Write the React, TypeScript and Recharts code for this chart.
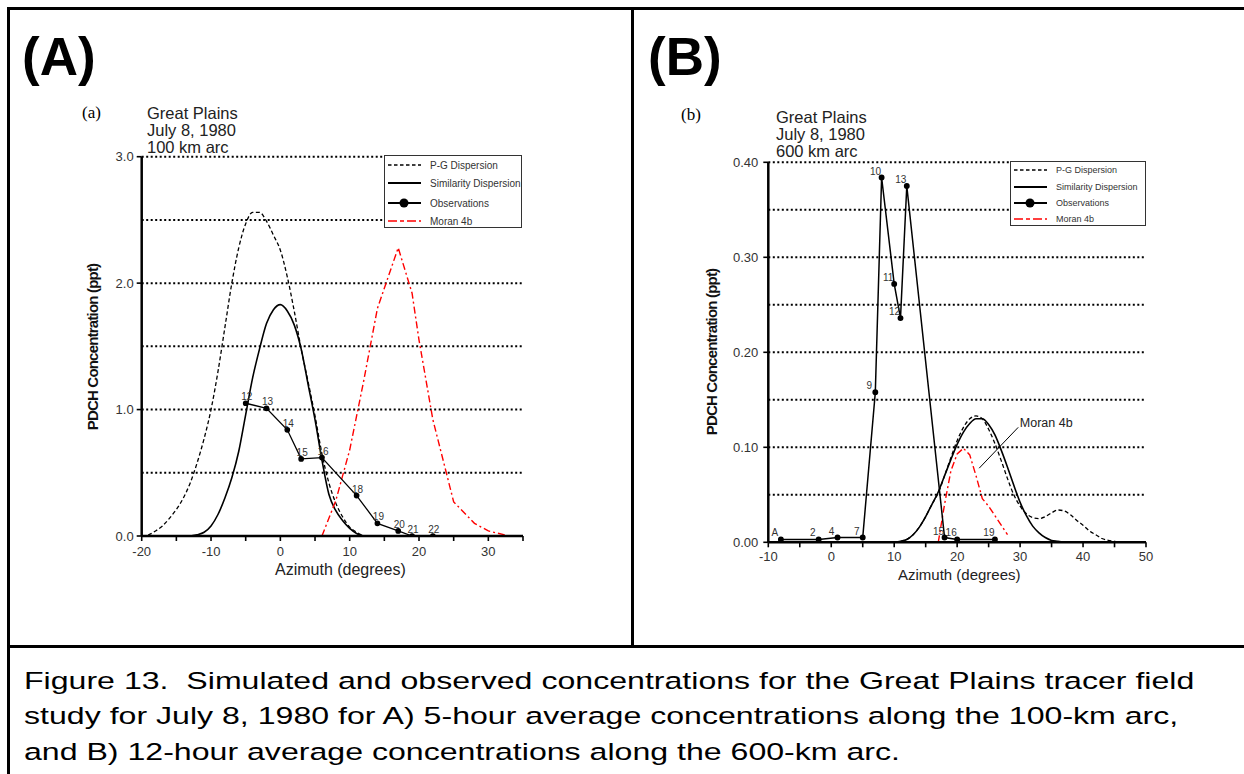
import React from "react";
import {
  LineChart,
  Line,
  XAxis,
  YAxis,
  ReferenceLine,
  ReferenceDot,
  LabelList,
} from "recharts";

const SANS = '"Liberation Sans", Arial, Helvetica, sans-serif';
const SERIF = '"Liberation Serif", "Times New Roman", serif';

// ---- panel (a): 100 km arc ----
const pgAzimuthA = [-20, -19, -18, -17, -16, -15, -14, -13, -12, -11, -10, -9, -8, -7, -6, -5, -4, -3, -2, -1, 0, 1, 2, 3, 4, 5, 6, 7, 8, 9, 10, 11, 12];
const pgConcA = [0, 0.01, 0.04, 0.08, 0.14, 0.21, 0.3, 0.42, 0.58, 0.77, 1.0, 1.3, 1.65, 2.0, 2.28, 2.47, 2.56, 2.56, 2.49, 2.38, 2.26, 2.05, 1.78, 1.48, 1.22, 0.95, 0.65, 0.42, 0.26, 0.15, 0.07, 0.03, 0];

const simAzimuthA = [-13, -12, -11, -10, -9, -8, -7, -6, -5, -4, -3, -2, -1, 0, 1, 2, 3, 4, 5, 6, 7, 8, 9, 10, 11, 12];
const simConcA = [0, 0.01, 0.03, 0.08, 0.17, 0.3, 0.46, 0.67, 0.96, 1.25, 1.48, 1.68, 1.79, 1.83, 1.78, 1.67, 1.48, 1.2, 0.92, 0.6, 0.33, 0.2, 0.12, 0.06, 0.02, 0];

const obsAzimuthA = [-5, -2, 1, 3, 6, 11, 14, 17, 19, 22];
const obsConcA = [1.05, 1.01, 0.84, 0.61, 0.62, 0.32, 0.1, 0.04, 0.0, 0.0];
const obsIdA = ["12", "13", "14", "15", "16", "18", "19", "20", "21", "22"];

const moranAzimuthA = [6, 8, 10, 12, 14, 17, 19, 20, 22, 25, 28, 30, 33];
const moranConcA = [0, 0.28, 0.68, 1.22, 1.8, 2.28, 1.92, 1.55, 0.92, 0.27, 0.1, 0.04, 0];

const xTicksA = [-20, -15, -10, -5, 0, 5, 10, 15, 20, 25, 30, 35];
const yTicksA = [0, 1, 2, 3];
const gridA = [0.5, 1, 1.5, 2, 2.5, 3];

// ---- panel (b): 600 km arc ----
const pgAzimuthB = [10, 11, 12, 13, 14, 15, 16, 17, 18, 19, 20, 21, 22, 23, 24, 25, 26, 27, 28, 29, 30, 31, 32, 33, 34, 35, 36, 37, 38, 39, 40, 41, 42, 43, 44, 45, 46];
const pgConcB = [0, 0.001, 0.003, 0.008, 0.016, 0.027, 0.04, 0.052, 0.07, 0.089, 0.107, 0.121, 0.13, 0.133, 0.13, 0.119, 0.104, 0.086, 0.067, 0.05, 0.038, 0.03, 0.026, 0.025, 0.027, 0.031, 0.034, 0.033, 0.029, 0.023, 0.018, 0.012, 0.008, 0.004, 0.002, 0.001, 0];

const simAzimuthB = [10, 11, 12, 13, 14, 15, 16, 17, 18, 19, 20, 21, 22, 23, 24, 25, 26, 27, 28, 29, 30, 31, 32, 33, 34, 35, 36, 37];
const simConcB = [0, 0.001, 0.003, 0.008, 0.016, 0.027, 0.04, 0.053, 0.07, 0.087, 0.103, 0.116, 0.125, 0.13, 0.13, 0.124, 0.113, 0.097, 0.079, 0.06, 0.042, 0.028, 0.017, 0.01, 0.005, 0.002, 0.001, 0];

const obsAzimuthB = [-8, -2, 1, 5, 7, 8, 10, 11, 12, 18, 20, 26];
const obsConcB = [0.003, 0.003, 0.005, 0.005, 0.158, 0.384, 0.272, 0.236, 0.375, 0.005, 0.003, 0.003];
const obsIdB = ["A", "2", "4", "7", "9", "10", "11", "12", "13", "15", "16", "19"];

const moranAzimuthB = [17, 18, 19, 20, 21, 22, 23, 24, 25, 26, 27, 28];
const moranConcB = [0, 0.04, 0.075, 0.093, 0.099, 0.092, 0.07, 0.046, 0.038, 0.028, 0.018, 0.008];

const xTicksB = [-10, -5, 0, 5, 10, 15, 20, 25, 30, 35, 40, 45, 50];
const yTicksB = [0, 0.1, 0.2, 0.3, 0.4];
const gridB = [0.05, 0.1, 0.15, 0.2, 0.25, 0.3, 0.35, 0.4];

const legendNames = ["P-G Dispersion", "Similarity Dispersion", "Observations", "Moran 4b"];

const captionLines = [
  "Figure 13.  Simulated and observed concentrations for the Great Plains tracer field",
  "study for July 8, 1980 for A) 5-hour average concentrations along the 100-km arc,",
  "and B) 12-hour average concentrations along the 600-km arc.",
];

const toPoints = (xs: number[], ys: number[], ids?: string[]) =>
  xs.map((x, i) => (ids ? { x, y: ys[i], id: ids[i] } : { x, y: ys[i] }));

const PG_DASH = "4 2.5";
const MORAN_DASH = "7 3 2 3";
const RED = "#ff0000";

const obsLabel = (dx: number, dy: number) => (props: any) => {
  const x = props.x ?? props.viewBox?.x;
  const y = props.y ?? props.viewBox?.y;
  return (
    <text x={x + dx} y={y + dy} textAnchor="middle" fontSize={10} fill="#333" fontFamily={SANS}>
      {props.value}
    </text>
  );
};

const LegendBox = ({ left, top, width, height, rowY, fontSize }: any) => (
  <div
    style={{
      position: "absolute",
      left,
      top,
      width,
      height,
      border: "1.5px solid #333",
      background: "#fff",
      boxSizing: "border-box",
    }}
  >
    <svg width={width} height={height} style={{ position: "absolute", left: -1.5, top: -1.5, overflow: "visible" }}>
      {legendNames.map((name, i) => (
        <g key={name}>
          <line
            x1={4}
            x2={37}
            y1={rowY[i]}
            y2={rowY[i]}
            stroke={i === 3 ? RED : "#000"}
            strokeWidth={i === 1 || i === 2 ? 2 : 1.6}
            strokeDasharray={i === 0 ? "3.5 2.5" : i === 3 ? "9 3 4 3" : undefined}
          />
          {i === 2 && <circle cx={20} cy={rowY[i]} r={4.5} fill="#000" />}
          <text x={46} y={rowY[i]} dy="0.35em" fontSize={fontSize} fill="#333" fontFamily={SANS}>
            {name}
          </text>
        </g>
      ))}
    </svg>
  </div>
);

const Txt = ({ left, top, size, children, style }: any) => (
  <div
    style={{
      position: "absolute",
      left,
      top,
      fontSize: size,
      lineHeight: 1,
      fontFamily: SANS,
      color: "#222",
      whiteSpace: "pre",
      ...style,
    }}
  >
    {children}
  </div>
);

const RotLabel = ({ cx, cy, children }: any) => (
  <div
    style={{
      position: "absolute",
      left: cx,
      top: cy,
      transform: "translate(-50%, -50%) rotate(-90deg)",
      fontFamily: SANS,
      fontWeight: "bold",
      fontSize: 15,
      letterSpacing: "-0.8px",
      whiteSpace: "nowrap",
      color: "#111",
    }}
  >
    {children}
  </div>
);

const axisLine = { stroke: "#000", strokeWidth: 2.5 };
const tickLine = { stroke: "#000", strokeWidth: 1.6 };

const ChartA = () => (
  <LineChart width={540} height={460} margin={{ top: 16.7, right: 37, left: 71.7, bottom: 34 }}>
    <XAxis
      type="number"
      dataKey="x"
      domain={[-20, 35]}
      ticks={xTicksA}
      interval={0}
      tickFormatter={(v: number) => (v % 10 === 0 ? String(v) : "")}
      axisLine={axisLine}
      tickLine={tickLine}
      tickSize={5}
      tickMargin={6}
      height={30}
      tick={{ fontSize: 13, fill: "#333", fontFamily: SANS }}
      allowDataOverflow
    />
    <YAxis
      type="number"
      dataKey="y"
      domain={[0, 3]}
      ticks={yTicksA}
      interval={0}
      tickFormatter={(v: number) => v.toFixed(1)}
      axisLine={axisLine}
      tickLine={tickLine}
      tickSize={5}
      tickMargin={3}
      width={50}
      tick={{ fontSize: 13, fill: "#333", fontFamily: SANS }}
      allowDataOverflow
    />
    {gridA.map((v) => (
      <ReferenceLine key={v} y={v} stroke="#000" strokeWidth={2} strokeDasharray="2 2.5" />
    ))}
    <Line data={toPoints(pgAzimuthA, pgConcA)} dataKey="y" type="monotone" stroke="#000" strokeWidth={1.3} strokeDasharray={PG_DASH} dot={false} isAnimationActive={false} />
    <Line data={toPoints(simAzimuthA, simConcA)} dataKey="y" type="monotone" stroke="#000" strokeWidth={1.6} dot={false} isAnimationActive={false} />
    <Line data={toPoints(moranAzimuthA, moranConcA)} dataKey="y" type="linear" stroke={RED} strokeWidth={1.4} strokeDasharray={MORAN_DASH} dot={false} isAnimationActive={false} />
    <Line data={toPoints(obsAzimuthA, obsConcA, obsIdA)} dataKey="y" type="linear" stroke="#000" strokeWidth={1.3} dot={{ r: 2.2, fill: "#000", stroke: "#000" }} isAnimationActive={false}>
      <LabelList dataKey="id" content={obsLabel(1, -3)} />
    </Line>
  </LineChart>
);

const ChartB = () => (
  <LineChart width={540} height={460} margin={{ top: 17.3, right: 44, left: 68.3, bottom: 32.7 }}>
    <XAxis
      type="number"
      dataKey="x"
      domain={[-10, 50]}
      ticks={xTicksB}
      interval={0}
      tickFormatter={(v: number) => (v % 10 === 0 ? String(v) : "")}
      axisLine={axisLine}
      tickLine={tickLine}
      tickSize={5}
      tickMargin={4}
      height={30}
      tick={{ fontSize: 13, fill: "#333", fontFamily: SANS }}
      allowDataOverflow
    />
    <YAxis
      type="number"
      dataKey="y"
      domain={[0, 0.4]}
      ticks={yTicksB}
      interval={0}
      tickFormatter={(v: number) => v.toFixed(2)}
      axisLine={axisLine}
      tickLine={tickLine}
      tickSize={5}
      tickMargin={5}
      width={50}
      tick={{ fontSize: 13, fill: "#333", fontFamily: SANS }}
      allowDataOverflow
    />
    {gridB.map((v) => (
      <ReferenceLine key={v} y={v} stroke="#000" strokeWidth={2} strokeDasharray="2 2.5" />
    ))}
    <Line data={toPoints(pgAzimuthB, pgConcB)} dataKey="y" type="monotone" stroke="#000" strokeWidth={1.3} strokeDasharray={PG_DASH} dot={false} isAnimationActive={false} />
    <Line data={toPoints(simAzimuthB, simConcB)} dataKey="y" type="monotone" stroke="#000" strokeWidth={1.6} dot={false} isAnimationActive={false} />
    <Line data={toPoints(moranAzimuthB, moranConcB)} dataKey="y" type="linear" stroke={RED} strokeWidth={1.4} strokeDasharray={MORAN_DASH} dot={false} isAnimationActive={false} />
    <Line data={toPoints(obsAzimuthB, obsConcB, obsIdB)} dataKey="y" type="linear" stroke="#000" strokeWidth={1.5} dot={{ r: 2.2, fill: "#000", stroke: "#000" }} isAnimationActive={false}>
      <LabelList dataKey="id" content={obsLabel(-6, -3)} />
    </Line>
    <ReferenceLine
      segment={[
        { x: 29.7, y: 0.121 },
        { x: 23.5, y: 0.078 },
      ]}
      stroke="#000"
      strokeWidth={1}
    />
    <ReferenceDot
      x={29.8}
      y={0.1256}
      r={0}
      fill="none"
      stroke="none"
      label={{ value: "Moran 4b", position: "right", offset: 1, fontSize: 12.5, fill: "#222", fontFamily: SANS }}
    />
  </LineChart>
);

export default function App() {
  return (
    <div
      style={{
        position: "absolute",
        left: 0,
        top: 0,
        width: 1244,
        height: 774,
        background: "#fff",
        overflow: "hidden",
        fontFamily: SANS,
      }}
    >
      {/* frame */}
      <div style={{ position: "absolute", left: 7, top: 7, width: 1237, height: 3, background: "#000" }} />
      <div style={{ position: "absolute", left: 7, top: 7, width: 3, height: 767, background: "#000" }} />
      <div style={{ position: "absolute", left: 631, top: 7, width: 3, height: 641, background: "#000" }} />
      <div style={{ position: "absolute", left: 7, top: 645, width: 1237, height: 3, background: "#000" }} />

      {/* panel A */}
      <Txt left={22} top={30} size={53} style={{ fontWeight: "bold", color: "#000" }}>(A)</Txt>
      <Txt left={82} top={104} size={17} style={{ fontFamily: SERIF, color: "#000" }}>(a)</Txt>
      <Txt left={147} top={105.3} size={16.5} style={{ lineHeight: "17px" }}>
        {"Great Plains\nJuly 8, 1980\n100 km arc"}
      </Txt>
      <div style={{ position: "absolute", left: 20, top: 140 }}>
        <ChartA />
      </div>
      <LegendBox left={384} top={155} width={138} height={73} rowY={[10, 28, 48, 66]} fontSize={10} />
      <RotLabel cx={92} cy={347}>PDCH Concentration (ppt)</RotLabel>
      <Txt left={275} top={562} size={16}>Azimuth (degrees)</Txt>

      {/* panel B */}
      <Txt left={648} top={30} size={53} style={{ fontWeight: "bold", color: "#000" }}>(B)</Txt>
      <Txt left={681} top={106} size={17} style={{ fontFamily: SERIF, color: "#000" }}>(b)</Txt>
      <Txt left={776} top={108.5} size={16.5} style={{ lineHeight: "17px" }}>
        {"Great Plains\nJuly 8, 1980\n600 km arc"}
      </Txt>
      <div style={{ position: "absolute", left: 650, top: 145 }}>
        <ChartB />
      </div>
      <LegendBox left={1010} top={161} width={136} height={65} rowY={[9, 26, 42, 58]} fontSize={9} />
      <RotLabel cx={711} cy={352}>PDCH Concentration (ppt)</RotLabel>
      <Txt left={898} top={567} size={15}>Azimuth (degrees)</Txt>

      {/* caption */}
      <div
        style={{
          position: "absolute",
          left: 24,
          top: 663,
          fontSize: 24.5,
          lineHeight: "35.35px",
          fontFamily: SANS,
          color: "#000",
          whiteSpace: "pre",
          transform: "scaleX(1.31)",
          transformOrigin: "0 0",
        }}
      >
        {captionLines.join("\n")}
      </div>
    </div>
  );
}
